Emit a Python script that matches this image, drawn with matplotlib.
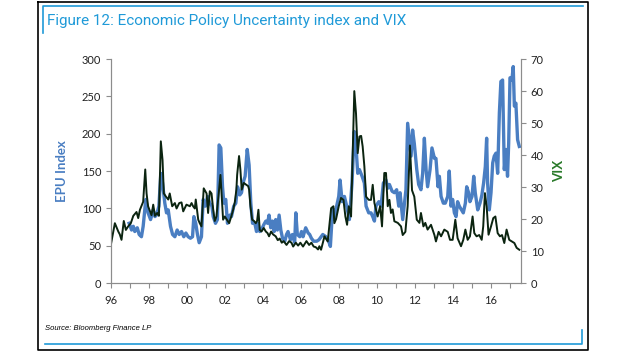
import numpy as np
import matplotlib
matplotlib.use('Agg')
import matplotlib.pyplot as plt
from matplotlib.lines import Line2D

# EPU index (left axis)
epu_t = [1996.96, 1997.09, 1997.18, 1997.26, 1997.39, 1997.49, 1997.61, 1997.70, 1997.84, 1997.96,
         1998.09, 1998.23, 1998.32, 1998.40, 1998.53, 1998.63, 1998.72, 1998.84, 1998.93, 1999.02,
         1999.14, 1999.25, 1999.37, 1999.49, 1999.60, 1999.72, 1999.84, 1999.95, 2000.07, 2000.19,
         2000.30, 2000.37, 2000.47, 2000.56, 2000.65, 2000.77, 2000.86, 2000.98, 2001.09, 2001.21,
         2001.32, 2001.39, 2001.51, 2001.61, 2001.70, 2001.79, 2001.88, 2001.95, 2002.05, 2002.14,
         2002.26, 2002.35, 2002.47, 2002.58, 2002.67, 2002.79, 2002.88, 2002.96, 2003.07, 2003.18,
         2003.28, 2003.37, 2003.46, 2003.58, 2003.67, 2003.75, 2003.84, 2003.93, 2004.05, 2004.16,
         2004.25, 2004.33, 2004.42, 2004.51, 2004.60, 2004.68, 2004.77, 2004.86, 2004.95, 2005.04,
         2005.16, 2005.25, 2005.33, 2005.46, 2005.56, 2005.68, 2005.74, 2005.82, 2005.95, 2006.04,
         2006.12, 2006.26, 2006.39, 2006.47, 2006.56, 2006.68, 2006.84, 2006.96, 2007.16, 2007.33,
         2007.47, 2007.56, 2007.68, 2007.77, 2007.89, 2008.00, 2008.07, 2008.18, 2008.30, 2008.42,
         2008.56, 2008.70, 2008.82, 2008.91, 2009.00, 2009.09, 2009.23, 2009.35, 2009.44, 2009.58,
         2009.70, 2009.79, 2009.88, 2009.96, 2010.11, 2010.23, 2010.35, 2010.49, 2010.58, 2010.67,
         2010.81, 2010.93, 2011.05, 2011.16, 2011.23, 2011.37, 2011.54, 2011.63, 2011.72, 2011.81,
         2011.89, 2011.98, 2012.11, 2012.21, 2012.33, 2012.42, 2012.51, 2012.60, 2012.68, 2012.81,
         2012.91, 2013.04, 2013.12, 2013.23, 2013.30, 2013.39, 2013.51, 2013.61, 2013.74, 2013.82,
         2013.91, 2014.00, 2014.09, 2014.18, 2014.26, 2014.35, 2014.47, 2014.56, 2014.67, 2014.74,
         2014.84, 2014.91, 2015.02, 2015.11, 2015.19, 2015.32, 2015.44, 2015.54, 2015.63, 2015.72,
         2015.79, 2015.84, 2015.93, 2016.02, 2016.11, 2016.19, 2016.28, 2016.37, 2016.46, 2016.54,
         2016.63, 2016.72, 2016.81, 2016.89, 2016.95, 2017.02, 2017.12, 2017.19, 2017.25, 2017.33,
         2017.42, 2017.51]
epu = [80, 71, 76, 69, 74, 65, 62, 76, 112, 94,
       85, 98, 89, 91, 103, 147, 134, 107, 94, 98,
       76, 65, 62, 71, 65, 69, 62, 67, 62, 60,
       62, 89, 80, 65, 54, 62, 112, 103, 116, 107,
       103, 89, 80, 85, 185, 181, 129, 107, 112, 80,
       91, 89, 103, 107, 129, 118, 121, 134, 143, 179,
       158, 107, 80, 80, 69, 80, 69, 71, 78, 83,
       80, 91, 74, 83, 69, 85, 71, 91, 71, 60,
       56, 65, 69, 58, 65, 54, 94, 65, 62, 69,
       62, 74, 67, 65, 60, 56, 56, 58, 65, 62,
       56, 49, 100, 85, 103, 116, 138, 109, 116, 103,
       85, 134, 203, 183, 147, 152, 143, 134, 103, 94,
       94, 89, 83, 103, 109, 103, 134, 138, 127, 132,
       123, 121, 125, 103, 121, 85, 125, 214, 192, 170,
       205, 187, 152, 132, 125, 147, 194, 152, 129, 152,
       181, 167, 167, 129, 143, 116, 107, 107, 116, 150,
       103, 112, 94, 89, 109, 103, 98, 94, 107, 129,
       121, 109, 116, 143, 121, 98, 107, 118, 134, 156,
       194, 134, 98, 121, 161, 170, 174, 147, 228, 270,
       272, 152, 179, 143, 187, 275, 272, 290, 237, 241,
       192, 183]

# VIX (right axis)
vix_t = [1996.00, 1996.21, 1996.39, 1996.47, 1996.56, 1996.68, 1996.79, 1996.91, 1997.05, 1997.18,
         1997.35, 1997.44, 1997.53, 1997.70, 1997.81, 1997.88, 1997.96, 1998.14, 1998.23, 1998.32,
         1998.44, 1998.53, 1998.63, 1998.72, 1998.79, 1998.89, 1999.02, 1999.10, 1999.23, 1999.37,
         1999.46, 1999.60, 1999.72, 1999.81, 1999.98, 2000.16, 2000.25, 2000.33, 2000.42, 2000.47,
         2000.60, 2000.68, 2000.77, 2000.89, 2001.04, 2001.12, 2001.21, 2001.30, 2001.39, 2001.47,
         2001.56, 2001.68, 2001.77, 2001.91, 2002.00, 2002.23, 2002.35, 2002.44, 2002.53, 2002.61,
         2002.65, 2002.75, 2002.82, 2002.89, 2003.00, 2003.11, 2003.23, 2003.28, 2003.35, 2003.44,
         2003.54, 2003.63, 2003.70, 2003.77, 2003.84, 2003.93, 2004.05, 2004.16, 2004.25, 2004.33,
         2004.44, 2004.54, 2004.68, 2004.79, 2004.89, 2005.00, 2005.10, 2005.25, 2005.39, 2005.51,
         2005.60, 2005.74, 2005.86, 2005.98, 2006.12, 2006.30, 2006.44, 2006.56, 2006.68, 2006.79,
         2006.91, 2006.98, 2007.07, 2007.25, 2007.42, 2007.60, 2007.72, 2007.77, 2007.86, 2008.00,
         2008.12, 2008.25, 2008.35, 2008.44, 2008.53, 2008.65, 2008.74, 2008.82, 2008.91, 2009.00,
         2009.09, 2009.18, 2009.26, 2009.35, 2009.44, 2009.58, 2009.70, 2009.79, 2009.88, 2009.96,
         2010.05, 2010.18, 2010.28, 2010.40, 2010.49, 2010.58, 2010.67, 2010.75, 2010.84, 2010.93,
         2011.11, 2011.28, 2011.37, 2011.51, 2011.63, 2011.75, 2011.86, 2011.98, 2012.11, 2012.25,
         2012.33, 2012.46, 2012.56, 2012.68, 2012.86, 2013.04, 2013.12, 2013.26, 2013.39, 2013.56,
         2013.74, 2013.86, 2014.00, 2014.14, 2014.26, 2014.44, 2014.56, 2014.67, 2014.79, 2014.91,
         2015.05, 2015.14, 2015.26, 2015.40, 2015.53, 2015.61, 2015.70, 2015.79, 2015.89, 2016.02,
         2016.14, 2016.25, 2016.37, 2016.49, 2016.60, 2016.72, 2016.84, 2016.98, 2017.12, 2017.25,
         2017.37, 2017.51]
vix = [12.0, 18.7, 16.1, 15.2, 13.5, 19.4, 16.6, 17.7, 18.7, 21.0,
       22.2, 20.3, 22.9, 25.4, 35.5, 28.0, 24.0, 21.2, 24.5, 21.0,
       21.9, 21.0, 44.3, 38.5, 28.0, 27.1, 26.1, 28.0, 24.0, 25.0,
       23.3, 25.0, 25.2, 22.4, 24.5, 24.0, 25.0, 24.0, 23.3, 26.1,
       19.8, 18.7, 17.7, 29.6, 28.0, 21.9, 28.7, 28.0, 22.9, 19.4,
       20.8, 28.0, 33.8, 19.8, 20.8, 18.7, 21.0, 22.9, 25.4, 29.2,
       33.8, 39.7, 35.5, 29.2, 31.3, 30.8, 30.3, 29.2, 24.0, 19.8,
       19.4, 18.7, 19.4, 22.9, 16.6, 16.1, 17.2, 16.1, 15.6, 14.6,
       16.1, 15.2, 14.6, 13.4, 13.9, 12.6, 13.1, 11.9, 13.1, 12.6,
       11.4, 12.6, 11.7, 12.6, 11.4, 13.1, 11.9, 12.6, 11.4, 11.2,
       10.5, 11.5, 10.4, 14.6, 13.0, 23.4, 24.0, 18.7, 20.0, 24.0,
       26.6, 26.0, 20.8, 18.2, 24.0, 20.8, 41.7, 60.0, 53.0, 40.6,
       45.8, 46.0, 42.7, 36.5, 27.0, 26.0, 26.0, 30.7, 25.0, 23.0,
       20.8, 24.0, 17.7, 34.4, 34.4, 24.0, 26.0, 21.9, 23.0, 19.3,
       18.8, 17.7, 15.0, 16.0, 24.0, 43.0, 29.0, 27.0, 19.8, 18.8,
       21.9, 17.7, 18.8, 16.7, 18.2, 15.0, 13.0, 16.0, 14.6, 16.7,
       16.0, 13.5, 13.5, 19.8, 14.0, 11.5, 13.5, 16.7, 13.5, 14.6,
       20.8, 15.6, 14.6, 15.0, 13.5, 17.7, 28.1, 24.0, 15.1, 17.7,
       20.3, 20.8, 15.6, 14.6, 15.0, 12.5, 16.7, 13.5, 13.0, 12.5,
       11.0, 10.4]

year_ticks = list(range(1996, 2017, 2))
year_labels = ['%02d' % (y % 100) for y in year_ticks]

blue = '#4a7ec2'
dark = '#0b2410'
frame_blue = '#1f9ad8'
grey = '#8c8c8c'

fig = plt.figure(figsize=(6.3, 3.52), dpi=100)

# outer frame and decorations
fig.add_artist(Line2D([0.061, 0.061, 0.933, 0.933, 0.061], [0.995, 0.006, 0.006, 0.995, 0.995],
                      transform=fig.transFigure, color='black', lw=1.2))
fig.add_artist(Line2D([0.069, 0.069, 0.925], [0.905, 0.983, 0.983],
                      transform=fig.transFigure, color=frame_blue, lw=1.2))
fig.add_artist(Line2D([0.071, 0.924, 0.924], [0.022, 0.022, 0.062],
                      transform=fig.transFigure, color=frame_blue, lw=1.2))
fig.text(0.075, 0.94, 'Figure 12: Economic Policy Uncertainty index and VIX',
         color=frame_blue, fontsize=11, family='Roboto', va='center')
fig.text(0.072, 0.068, 'Source: Bloomberg Finance LP', fontsize=5.5,
         style='italic', family='Liberation Sans', va='center')

ax = fig.add_axes([0.176, 0.196, 0.651, 0.636])
ax2 = ax.twinx()

ax.plot(epu_t, epu, color=blue, lw=2.4)
ax2.plot(vix_t, vix, color=dark, lw=1.4)

ax.set_xlim(1996, 2017.6)
ax.set_ylim(0, 300)
ax2.set_ylim(0, 70)
ax.set_xticks(year_ticks)
ax.set_xticklabels(year_labels)
ax.set_xticks(range(1997, 2018, 2), minor=True)
ax.set_yticks(range(0, 301, 50))
ax2.set_yticks(range(0, 71, 10))

for a in (ax, ax2):
    a.spines['top'].set_visible(False)
    for s in ('left', 'right', 'bottom'):
        a.spines[s].set_color(grey)
    a.tick_params(which='both', color=grey, length=3.5, width=0.8,
                  labelsize=8, labelcolor='#222222')
    a.tick_params(axis='x', pad=5)
    for lab in a.get_xticklabels() + a.get_yticklabels():
        lab.set_family('Lato')

ax.set_ylabel('EPU Index', color=blue, fontsize=9.5, fontweight='bold', family='Lato', labelpad=10)
ax2.set_ylabel('VIX', color='#2a7a2a', fontsize=9.5, fontweight='bold', family='Lato', labelpad=7)

fig.savefig('out.png', dpi=100)
